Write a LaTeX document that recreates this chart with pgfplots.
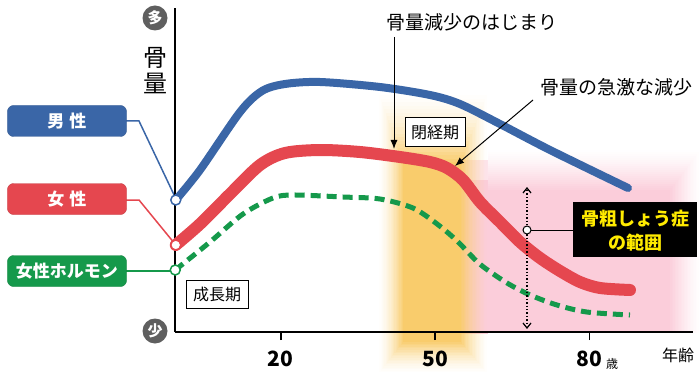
\documentclass[border=0pt]{standalone}
\usepackage{fontspec}
\setmainfont{Noto Sans CJK JP}
\usepackage{pgfplots}
\pgfplotsset{compat=1.18}
\usetikzlibrary{arrows.meta}
\definecolor{cblue}{HTML}{3A66A7}
\definecolor{cred}{HTML}{E5474F}
\definecolor{cgreen}{HTML}{15994B}
\definecolor{cyel}{HTML}{F9CC6C}
\definecolor{cpink}{HTML}{FBCDDA}
\definecolor{cpinkl}{HTML}{FDE4EB}
\definecolor{cgrey}{HTML}{5F5F5F}
\definecolor{cyt}{HTML}{FFEB00}
\newcommand{\fs}[1]{\fontsize{#1}{#1}\selectfont}
\newcommand{\yellowlayers}[1]{%
  \foreach \i [evaluate=\i as \p using int(100*((\i+1)/21)^1.6)] in {0,...,20} {
    \fill[cyel!\p!#1] (378+\i*1.25, 92+\i*3.5) rectangle (488-\i*1.35, 374-\i*1.6);
  }}
\begin{document}
\begin{tikzpicture}[x=1pt,y=1pt]
% pixel frame: (X,Y) -> (X-175, 332-Y)
\begin{scope}[shift={(-175pt,332pt)}, yscale=-1]
  % pink region
  \foreach \i [evaluate=\i as \p using int(100*((\i+1)/21)^1.3)] in {0,...,20} {
    \fill[cpink!\p!white] (436+\i*1.6, 150+\i*2) rectangle (700-\i*1.5, 333);
  }
  % yellow glow (fading to white outside the pink, to pink inside it)
  \begin{scope}
    \clip (370,80) -- (700,80) -- (700,160) -- (432,160) -- (432,333) -- (700,333) -- (700,380) -- (370,380) -- cycle;
    \yellowlayers{white}
  \end{scope}
  \begin{scope}
    \clip (432,160) rectangle (700,180);
    \yellowlayers{cpinkl}
  \end{scope}
  \begin{scope}
    \clip (432,180) rectangle (700,333);
    \yellowlayers{cpink}
  \end{scope}
  % connectors
  \draw[cblue, line width=1.5pt] (126,121) -- (139,121) -- (176,199);
  \draw[cred, line width=1.5pt] (126,200) -- (139,200) -- (175,244);
  \draw[cgreen, line width=1.5pt] (126,271) -- (175,271);
\end{scope}

\begin{axis}[
  scale only axis, width=518pt, height=324pt,
  xmin=-0.55, xmax=100.15, ymin=0, ymax=324,
  axis x line=bottom, axis y line=left,
  axis line style={-, line width=2.2pt, black},
  xtick={20,50,80}, ytick=\empty,
  xtick align=outside, major tick length=8pt,
  tick style={black, line width=1.6pt},
  xticklabel style={font=\fs{21}\bfseries, yshift=-7pt},
  /pgf/number format/assume math mode=true,
  clip=false,
]
\addplot[cblue, line width=8pt, smooth, line cap=round] coordinates {
  (-0.4,132) (4.31,162) (12.09,220) (16.36,241) (20.83,248) (27.64,250)
  (39.30,245) (49.02,237) (54.85,228) (62.63,208) (72.35,182) (87.51,144)};
\addplot[cred, line width=12pt, smooth, line cap=round] coordinates {
  (-0.4,87) (4.31,108) (10.14,138) (15.97,167) (20.83,179) (27.64,182)
  (35.41,180) (43.19,175) (49.02,170) (52.33,164) (55.44,152) (58.75,130)
  (62.63,110) (66.52,90) (70.41,74) (74.29,61) (78.18,50) (82.07,44) (87.90,42)};
\addplot[cgreen, line width=5pt, smooth, dash pattern=on 10pt off 6pt] coordinates {
  (-0.5,62) (6.25,90) (12.67,118) (18.5,134) (22.4,137) (32.1,135)
  (39.3,133) (45.7,124) (50.4,108) (54.3,91) (58.7,68) (64.0,49)
  (68.5,37) (73.7,27) (79.5,20) (87.9,17)};
% start circles
\addplot[only marks, mark=*, mark size=5pt, mark options={fill=white, draw=cblue, line width=1.5pt}] coordinates {(-0.4,132)};
\addplot[only marks, mark=*, mark size=5pt, mark options={fill=white, draw=cred, line width=1.5pt}] coordinates {(-0.4,87)};
\addplot[only marks, mark=*, mark size=5pt, mark options={fill=white, draw=cgreen, line width=1.5pt}] coordinates {(-0.5,62)};
\end{axis}

\begin{scope}[shift={(-175pt,332pt)}, yscale=-1]
  % legend boxes
  \node[fill=cblue, draw=cblue!85!black, rounded corners=6pt, minimum width=119pt, minimum height=31pt, text=white, font=\fs{17}\bfseries, inner sep=0pt] at (67,121) {男\hspace{5pt}性};
  \node[fill=cred, draw=cred!85!black, rounded corners=6pt, minimum width=119pt, minimum height=31pt, text=white, font=\fs{17}\bfseries, inner sep=0pt] at (67,199) {女\hspace{5pt}性};
  \node[fill=cgreen, draw=cgreen!85!black, rounded corners=6pt, minimum width=119pt, minimum height=31pt, text=white, font=\fs{17}\bfseries, inner sep=0pt] at (67,271) {女性ホルモン};
  % y labels
  \fill[cgrey] (155,18) circle (12.5);
  \node[text=white, font=\fs{15}\bfseries] at (155,18) {多};
  \fill[cgrey] (155,331) circle (12.5);
  \node[text=white, font=\fs{15}\bfseries] at (155,331) {少};
  \node[font=\fs{24}] at (155,58) {骨};
  \node[font=\fs{24}] at (155,83) {量};
  % period boxes
  \node[draw=black, line width=1pt, fill=white, font=\fs{16}, minimum width=62pt, minimum height=28pt, inner sep=0pt] at (217,294) {成長期};
  \node[draw=black, line width=1pt, fill=white, font=\fs{16}, minimum width=60pt, minimum height=29pt, inner sep=0pt] at (435,132) {閉経期};
  % annotations
  \node[font=\fs{19}] at (472,22) {骨量減少のはじまり};
  \draw[line width=1pt, -{Latex[length=9pt,width=7pt]}] (394,37) -- (394,149);
  \node[font=\fs{19}] at (616,87) {骨量の急激な減少};
  \draw[line width=1pt, -{Latex[length=9pt,width=7pt]}] (533,100) -- (455,166);
  % osteoporosis range
  \draw[line width=1.4pt, dotted] (527,190) -- (527,326);
  \draw[line width=1.2pt] (523,193) -- (527,188) -- (531,193);
  \draw[line width=1.2pt] (523,323) -- (527,328) -- (531,323);
  \draw[line width=1pt] (531,230) -- (574,230);
  \filldraw[fill=white, draw=black, line width=1pt] (527,230) circle (4);
  \node[fill=black, minimum width=124pt, minimum height=55pt, inner sep=0pt] at (635,229.5) {};
  \node[text=cyt, font=\fs{18}\bfseries] at (635,219) {骨粗しょう症};
  \node[text=cyt, font=\fs{18}\bfseries] at (635,243) {の範囲};
  % age labels
  \node[font=\fs{12}] at (612,364) {歳};
  \node[font=\fs{16}] at (678,355) {年齢};
\end{scope}
\pgfresetboundingbox
\path[use as bounding box] (-175,-43) rectangle (525,332);
\end{tikzpicture}
\end{document}
